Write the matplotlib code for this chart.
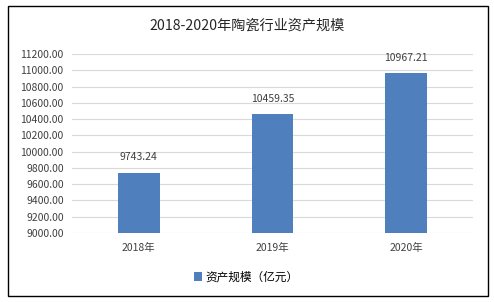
# 2018-2020年陶瓷行业资产规模 柱状图
import matplotlib.pyplot as plt
from matplotlib.patches import Rectangle

plt.rcParams['font.family'] = ['Noto Sans CJK SC', 'DejaVu Sans']

years = ['2018年', '2019年', '2020年']
values = [9743.24, 10459.35, 10967.21]
yticks = [9000 + 200 * i for i in range(12)]
series_name = '资产规模（亿元）'
title = '2018-2020年陶瓷行业资产规模'

fig = plt.figure(figsize=(4.94, 3.02), dpi=100)
W, H = 494, 302

# 外边框
fig.patches.append(Rectangle((7.5 / W, 1 - 295.5 / H), 480 / W, 290 / H,
                             transform=fig.transFigure, fill=False,
                             edgecolor='black', linewidth=1.0))

ax = fig.add_axes([72 / W, 1 - 233 / H, 401 / W, 179 / H])
bars = ax.bar(range(len(years)), values, width=0.31, color='#4F7FBD',
              bottom=0, zorder=3)
ax.set_ylim(9000, 11200)
ax.set_xlim(-0.5, len(years) - 0.5)
ax.set_yticks(yticks)
ax.set_yticklabels([f'{v:.2f}' for v in yticks], fontsize=7.5, color='#404040')
ax.set_xticks(range(len(years)))
ax.set_xticklabels(years, fontsize=7.5, color='#404040')
ax.tick_params(length=0, pad=6)
ax.tick_params(axis='x', pad=7)
ax.grid(axis='y', color='#D9D9D9', linewidth=0.8, zorder=0)
for s in ax.spines.values():
    s.set_visible(False)

for i, v in enumerate(values):
    ax.text(i, v + 125, f'{v:.2f}', ha='center', va='bottom',
            fontsize=7.5, color='#404040')

fig.text(247 / W, 1 - 26 / H, title, ha='center', va='center',
         fontsize=10.2, color='#262626')

fig.legend([bars], [series_name], loc='center', bbox_to_anchor=(246 / W, 1 - 277 / H),
           frameon=False, handlelength=0.7, handleheight=0.7,
           handletextpad=0.3, prop={'size': 8.4})

fig.savefig('out.png', dpi=100)
